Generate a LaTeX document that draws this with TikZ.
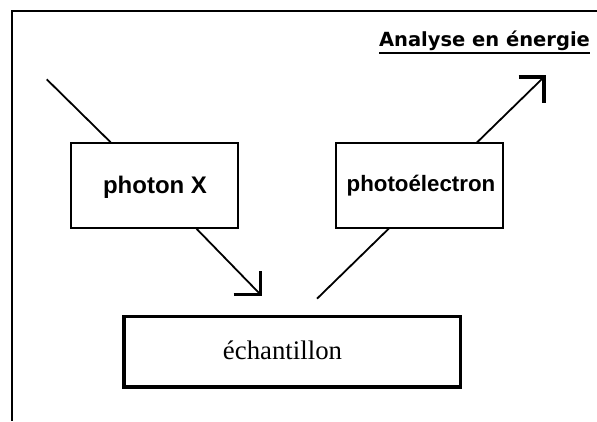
\documentclass[tikz,border=0pt]{standalone}
\usepackage{fontspec}
\setmainfont{Liberation Serif}
\newfontfamily\labelsans{Liberation Sans}
\newfontfamily\titlesans{DejaVu Sans}
\usetikzlibrary{calc}
\pgfdeclarelayer{background}
\pgfsetlayers{background,main}

\tikzset{
  frameline/.style={line width=2pt},
  labelbox/.style={draw, line width=1.4pt, fill=white, inner sep=0pt,
                   minimum width=167pt, minimum height=85pt},
  samplebox/.style={draw, line width=3.5pt, fill=white, inner sep=0pt,
                    minimum width=336.5pt, minimum height=70.3pt},
  ray/.style={line width=1.8pt},
  headline/.style={line width=3.8pt, line join=miter, line cap=butt},
  boxtext/.style={inner sep=0pt, anchor=base}
}

\begin{document}
\begin{tikzpicture}[x=1pt, y=-1pt]
  \useasboundingbox (0,0) rectangle (597,421);

  % open frame: top and left edges
  \draw[frameline] (597,11) -- (12,11) -- (12,421);

  % boxes
  \node[labelbox]  (photon)  at (154.5,185.5) {};
  \node[labelbox]  (photoel) at (419.5,185.5) {};
  \node[samplebox] (sample)  at (292.25,351.85) {};

  % labels
  \node[boxtext, font=\labelsans\bfseries\fontsize{24}{28}\selectfont]
       (photontext) at (155,193.3) {photon X};
  \node[boxtext, font=\labelsans\bfseries\fontsize{22.3}{26}\selectfont]
       (photoeltext) at (421,191.7) {photoélectron};
  \node[boxtext, font=\fontsize{26.8}{30}\selectfont]
       (sampletext) at (282.5,359) {échantillon};
  \node[boxtext, font=\titlesans\bfseries\fontsize{19.5}{23}\selectfont]
       (title) at (484.5,46) {Analyse en énergie};
  \draw[line width=2pt] (379,53) -- (590,53);

  % incoming X-ray photon
  \coordinate (pin)  at (46.7,79.3);
  \coordinate (tipA) at (260.5,294.5);
  \draw[ray] (pin) -- (photon) -- (tipA);
  \draw[headline] ($(tipA)+(-27,0)$) -- (tipA) -- ($(tipA)+(0,-24)$);

  % outgoing photoelectron
  \coordinate (estart) at (317,298.7);
  \coordinate (tipB)   at (544,77);
  \begin{pgfonlayer}{background}
    \draw[ray] (estart) -- (tipB);
  \end{pgfonlayer}
  \draw[headline] ($(tipB)+(-25.5,0)$) -- (tipB) -- ($(tipB)+(0,26)$);
\end{tikzpicture}
\end{document}
